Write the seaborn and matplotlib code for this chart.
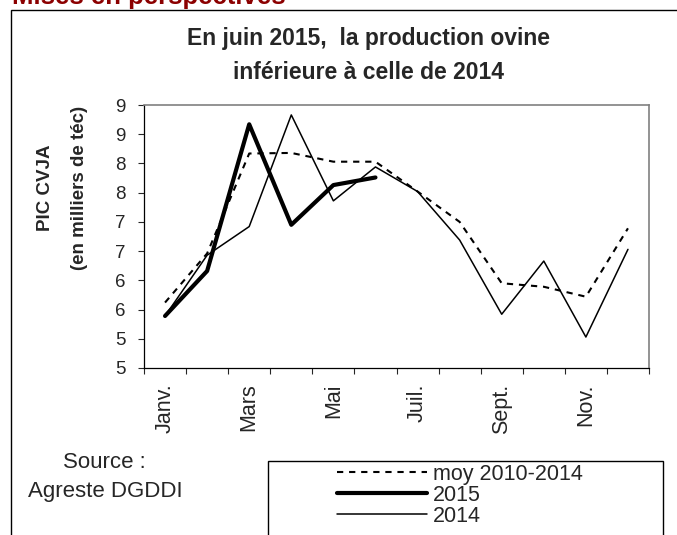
import numpy as np
import pandas as pd
import matplotlib
matplotlib.use("Agg")
import matplotlib.pyplot as plt
from matplotlib.patches import Rectangle
import seaborn as sns

# données (milliers de téc)
MONTHS = ["Janv.", "Févr.", "Mars", "Avr.", "Mai", "Juin",
          "Juil.", "Août", "Sept.", "Oct.", "Nov.", "Déc."]
MOY_2010_2014 = [5.62, 6.46, 8.17, 8.18, 8.03, 8.03, 7.52, 7.00, 5.95, 5.89, 5.72, 6.89]
PROD_2015 = [5.39, 6.16, 8.67, 6.95, 7.63, 7.76]
PROD_2014 = [5.39, 6.43, 6.92, 8.83, 7.36, 7.94, 7.52, 6.69, 5.42, 6.33, 5.03, 6.53]
Y_TICKS = [4.5, 5.0, 5.5, 6.0, 6.5, 7.0, 7.5, 8.0, 8.5, 9.0]
Y_TICK_LABELS = ["5", "5", "6", "6", "7", "7", "8", "8", "9", "9"]
X_LABELED = ["Janv.", "Mars", "Mai", "Juil.", "Sept.", "Nov."]

sns.set_style("ticks")
plt.rcParams["font.family"] = ["Liberation Sans", "DejaVu Sans"]

W, H = 677, 535
fig = plt.figure(figsize=(W / 100, H / 100), dpi=100)
ax = fig.add_axes([144 / W, 1 - 368 / H, (649 - 144) / W, (368 - 105) / H])

df_moy = pd.DataFrame({"x": np.arange(len(MOY_2010_2014)), "v": MOY_2010_2014})
df_15 = pd.DataFrame({"x": np.arange(len(PROD_2015)), "v": PROD_2015})
df_14 = pd.DataFrame({"x": np.arange(len(PROD_2014)), "v": PROD_2014})

sns.lineplot(data=df_moy, x="x", y="v", ax=ax, color="black", linewidth=1.5,
             label="moy 2010-2014")
ax.lines[-1].set_linestyle((0, (3, 2.8)))
sns.lineplot(data=df_15, x="x", y="v", ax=ax, color="black", linewidth=3.0,
             label="2015")
sns.lineplot(data=df_14, x="x", y="v", ax=ax, color="black", linewidth=1.1,
             label="2014")

ax.set_xlim(-0.5, len(MONTHS) - 0.5)
ax.set_ylim(Y_TICKS[0], Y_TICKS[-1])
ax.set_yticks(Y_TICKS)
ax.set_yticklabels(Y_TICK_LABELS, fontsize=13.5)
ax.tick_params(axis="y", length=4, width=0.8, pad=9, direction="out")

# graduations entre les mois, étiquettes un mois sur deux
ax.set_xticks(np.arange(-0.5, len(MONTHS), 1.0))
ax.set_xticklabels([])
ax.set_xticks([MONTHS.index(m) for m in X_LABELED], minor=True)
ax.set_xticklabels(X_LABELED, minor=True, rotation=90, fontsize=15.5)
ax.tick_params(axis="x", which="major", length=4, width=0.8, direction="out")
ax.tick_params(axis="x", which="minor", length=0, pad=11)
ax.set_xlabel("")
ax.set_ylabel("")

for side in ["top", "right"]:
    ax.spines[side].set_color("#808080")
    ax.spines[side].set_linewidth(1.2)
for side in ["left", "bottom"]:
    ax.spines[side].set_color("black")
    ax.spines[side].set_linewidth(0.9)

# cadre et entête
fig.patches.append(Rectangle((10.5 / W, -0.1), 1.2, 1 - 9.5 / H + 0.1,
                             transform=fig.transFigure, fill=False,
                             edgecolor="black", linewidth=1.0))
fig.text(12 / W, 1 - 4 / H, "Mises en perspectives", color="#8b0000",
         fontsize=18.5, fontweight="bold", va="baseline", ha="left")

fig.text(368 / W, 1 - 39 / H, "En juin 2015,  la production ovine",
         ha="center", va="center", fontsize=16.5, fontweight="bold")
fig.text(368 / W, 1 - 72 / H, "inférieure à celle de 2014",
         ha="center", va="center", fontsize=16.5, fontweight="bold")

fig.text(45 / W, 1 - 188 / H, "PIC CVJA", rotation=90, ha="center",
         va="center", fontsize=13.5, fontweight="bold")
fig.text(79 / W, 1 - 188 / H, "(en milliers de téc)", rotation=90,
         ha="center", va="center", fontsize=13.5, fontweight="bold")

fig.text(104 / W, 1 - 462 / H, "Source :", ha="center", va="center", fontsize=16)
fig.text(105 / W, 1 - 492 / H, "Agreste DGDDI", ha="center", va="center", fontsize=16)

# légende
fig.patches.append(Rectangle((268 / W, -0.1), (663 - 268) / W, 1 - 461 / H + 0.1,
                             transform=fig.transFigure, fill=False,
                             edgecolor="black", linewidth=1.0))
handles, labels = ax.get_legend_handles_labels()
ax.legend(handles, labels, loc="upper left",
          bbox_to_anchor=(337 / W, 1 - 464 / H), bbox_transform=fig.transFigure,
          frameon=False, fontsize=15.5, handlelength=4.2, handletextpad=0.25,
          labelspacing=0.0, borderpad=0, borderaxespad=0)

fig.savefig("out.png", dpi=100)
